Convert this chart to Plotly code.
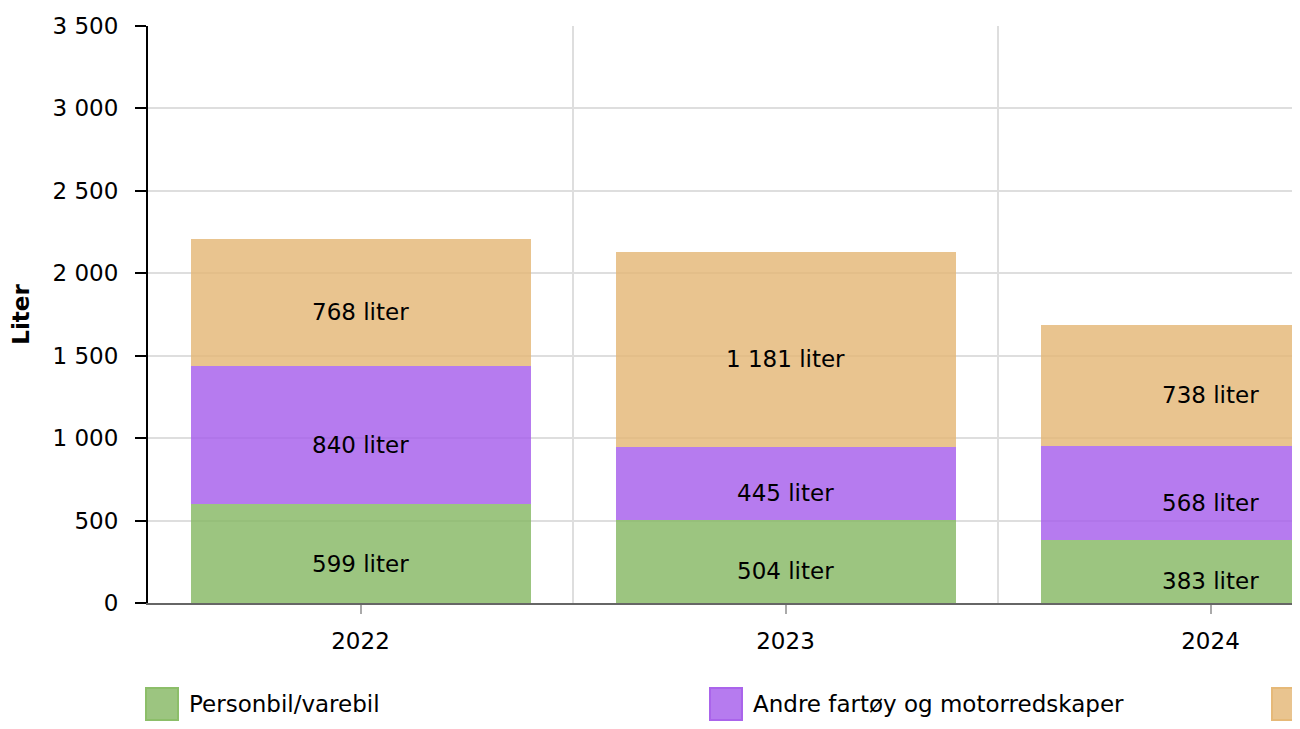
import plotly.graph_objects as go

# Data
YEARS = ["2022", "2023", "2024"]
SERIES = ["Personbil/varebil", "Andre fartøy og motorredskaper", "Annet"]
PERSONBIL = [599, 504, 383]
ANDRE = [840, 445, 568]
ANNET = [768, 1181, 738]
Y_TICKS = [0, 500, 1000, 1500, 2000, 2500, 3000, 3500]

# Colours (fill is semi-transparent, gridlines shine through)
FILL = ["rgba(131,182,96,0.8)", "rgba(164,90,235,0.8)", "rgba(227,181,115,0.8)"]
EDGE = ["rgb(140,190,105)", "rgb(170,100,235)", "rgb(230,185,120)"]
GRID = "#dedede"
FONT = "DejaVu Sans"
FS = 23

# Layout geometry (pixels)
BODY = 8            # default body margin of the html page
W, H = 1284, 713
ML, MR, MT, MB = 140, 0, 18, 118
PW, PH = W - ML - MR, H - MT - MB
CAT_PX = 425        # width of one category band

xs = list(range(len(YEARS)))
x_hi = -0.5 + PW / CAT_PX
bounds = [x + 0.5 for x in xs[:-1]]


def liter(v):
    return f"{v:,}".replace(",", " ") + " liter"


def px_x(px):
    return (px - BODY - ML) / PW


def px_y(py):
    return (BODY + MT + PH - py) / PH


fig = go.Figure()
values = [PERSONBIL, ANDRE, ANNET]
for name, vals, fill in zip(SERIES, values, FILL):
    fig.add_trace(go.Bar(
        x=xs, y=vals, name=name, width=0.8,
        marker=dict(color=fill, line=dict(width=0)),
        showlegend=False, hoverinfo="y+name",
    ))

# value labels in the middle of each segment
annotations = []
base = [0] * len(YEARS)
for vals in values:
    for i, v in enumerate(vals):
        annotations.append(dict(
            x=xs[i], y=base[i] + v / 2, text=liter(v), showarrow=False,
            yshift=-10, font=dict(family=FONT, size=FS, color="black"),
        ))
        base[i] += v

# hand-made legend with big squares (the last entry runs off the page,
# only its square is partly visible)
shapes = []
LEG_X = [146, 710, 1272]
SQ = 32
LEG_TOP = 688
for name, fill, edge, lx in zip(SERIES, FILL, EDGE, LEG_X):
    shapes.append(dict(
        type="rect", xref="paper", yref="paper",
        x0=px_x(lx), x1=px_x(lx + SQ), y0=px_y(LEG_TOP + SQ), y1=px_y(LEG_TOP),
        fillcolor=fill, line=dict(color=edge, width=2), layer="above",
    ))
    if lx + 41 < BODY + W:
        annotations.append(dict(
            xref="paper", yref="paper", x=px_x(lx + 41), y=px_y(LEG_TOP + SQ / 2),
            xanchor="left", yanchor="middle", text=name, showarrow=False,
            font=dict(family=FONT, size=FS, color="black"),
        ))

fig.update_layout(
    width=W, height=H,
    margin=dict(l=ML, r=MR, t=MT, b=MB, autoexpand=False),
    barmode="stack",
    plot_bgcolor="white", paper_bgcolor="white",
    separators=", ",
    font=dict(family=FONT, size=FS, color="black"),
    showlegend=False,
    shapes=shapes,
    annotations=annotations,
)

fig.update_xaxes(
    range=[-0.5, x_hi],
    tickmode="array", tickvals=xs, ticktext=YEARS,
    ticks="outside", ticklen=9, tickwidth=2, tickcolor="#aaaaaa",
    ticklabelstandoff=7,
    showgrid=False,
    minor=dict(tickmode="array", tickvals=bounds, showgrid=True,
               gridcolor=GRID, gridwidth=2, ticks=""),
    showline=True, linecolor="#666666", linewidth=2,
    zeroline=False,
)

fig.update_yaxes(
    range=[0, 3500],
    tickmode="array", tickvals=Y_TICKS, tickformat=",d",
    ticks="outside", ticklen=11, tickwidth=2, tickcolor="black",
    ticklabelstandoff=12,
    showgrid=True, gridcolor=GRID, gridwidth=2,
    showline=True, linecolor="black", linewidth=2,
    zeroline=False,
    title=dict(text="<b>Liter</b>", standoff=18,
               font=dict(family=FONT, size=FS, color="black")),
)

fig.write_html("out.html")
